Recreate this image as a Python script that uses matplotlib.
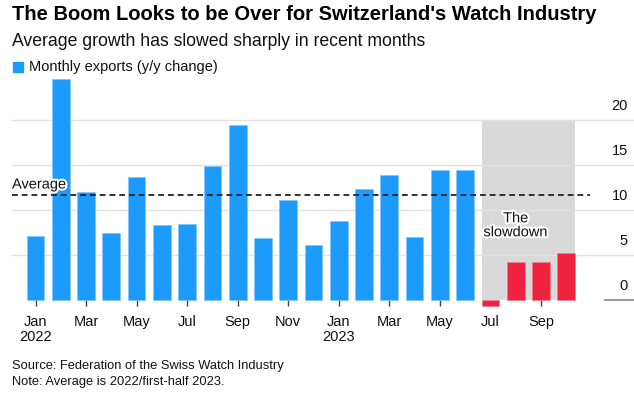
import matplotlib
matplotlib.use("Agg")
import matplotlib.pyplot as plt
import matplotlib.patheffects as pe
import numpy as np

plt.rcParams["font.family"] = ["Liberation Sans", "DejaVu Sans"]

# Monthly Swiss watch exports, y/y % change, Jan 2022 - Oct 2023
months = ["Jan", "Feb", "Mar", "Apr", "May", "Jun", "Jul", "Aug", "Sep", "Oct", "Nov", "Dec",
          "Jan", "Feb", "Mar", "Apr", "May", "Jun", "Jul", "Aug", "Sep", "Oct"]
years = ["2022"] + [""] * 11 + ["2023"] + [""] * 9
boom_values = [7.1, 24.6, 12.0, 7.4, 13.7, 8.3, 8.4, 14.9, 19.4, 6.9, 11.1, 6.1,
               8.8, 12.3, 13.9, 7.0, 14.4, 14.4]
slowdown_values = [-0.7, 4.2, 4.2, 5.2]
y_ticks = [0, 5, 10, 15, 20]

BLUE = "#1d9bfc"
RED = "#ef2340"
SHADE = "#d9d9d9"
GRID = "#e2e2e2"

W, H = 634, 395
fig = plt.figure(figsize=(W / 100, H / 100), dpi=100)

# axes placed in pixel terms: x from 12 to 634, y from 70.5 to 313.5
ax = fig.add_axes([12 / W, (H - 313.5) / H, 622 / W, 243 / H])
ax.set_xlim(-0.93, 23.68)
ax.set_ylim(-1.5, 25.5)
for s in ax.spines.values():
    s.set_visible(False)
# ticks hang from the zero line
ax.spines["bottom"].set_position(("data", 0))

n_boom = len(boom_values)
x_boom = np.arange(n_boom)
x_slow = np.arange(n_boom, n_boom + len(slowdown_values))
width = 0.7

# shaded slowdown period
ax.fill_between([x_slow[0] - width / 2, x_slow[-1] + width / 2], 0, 20,
                color=SHADE, zorder=0, linewidth=0)

# gridlines + right-side labels sitting above them
for v in y_ticks:
    if v > 0:
        ax.axhline(v, color=GRID, linewidth=1, zorder=0.5)
    ax.text(0.99, v + 1.55, str(v), transform=ax.get_yaxis_transform(),
            ha="right", va="center", fontsize=10.5, color="#111111")
ax.plot([0.953, 1.0], [0, 0], transform=ax.get_yaxis_transform(),
        color="#888888", linewidth=1.2, clip_on=False)

ax.bar(x_boom, boom_values, width=width, color=BLUE, edgecolor="#7cc4fd",
       linewidth=0.4, zorder=3)
ax.bar(x_slow, slowdown_values, width=width, color=RED, edgecolor="#f57d8f",
       linewidth=0.4, zorder=3)

# average of 2022 / first-half 2023
avg = np.mean(boom_values)
ax.plot([-0.93, 21.94], [avg, avg], color="#222222", linestyle=(0, (3.2, 2.2)),
        linewidth=1.3, zorder=4)
outline = [pe.withStroke(linewidth=3, foreground="white")]
ax.text(-0.93, avg + 0.35, "Average", ha="left", va="bottom", fontsize=10.5,
        color="#111111", zorder=5, path_effects=outline)
ax.text(19.0, 8.3, "The\nslowdown", ha="center", va="center", fontsize=10.5,
        color="#111111", linespacing=1.0, zorder=5, path_effects=outline)

# x ticks every other month
tick_pos = list(range(0, n_boom + len(slowdown_values), 2))
tick_lbl = [months[i] + ("\n" + years[i] if years[i] else "") for i in tick_pos]
ax.set_xticks(tick_pos)
ax.set_xticklabels(tick_lbl, fontsize=10.5, color="#111111", linespacing=1.05)
ax.tick_params(axis="x", length=4, width=1, color="#444444", pad=7)
ax.set_yticks([])

# header
fig.text(12 / W, 1 - 15 / H, "The Boom Looks to be Over for Switzerland's Watch Industry",
         fontsize=14.5, fontweight="bold", va="center", ha="left", color="black")
fig.text(12 / W, 1 - 42 / H, "Average growth has slowed sharply in recent months",
         fontsize=12.7, va="center", ha="left", color="#111111")
fig.patches.append(plt.Rectangle((13 / W, 1 - 72 / H), 10 / W, 10 / H,
                                 transform=fig.transFigure, color=BLUE))
fig.text(29 / W, 1 - 67 / H, "Monthly exports (y/y change)", fontsize=10.5,
         va="center", ha="left", color="#111111")

# footer
fig.text(12 / W, 1 - 366 / H, "Source: Federation of the Swiss Watch Industry",
         fontsize=9.3, va="center", ha="left", color="#111111")
fig.text(12 / W, 1 - 381.5 / H, "Note: Average is 2022/first-half 2023.",
         fontsize=9.3, va="center", ha="left", color="#111111")

fig.savefig("out.png", dpi=100)
